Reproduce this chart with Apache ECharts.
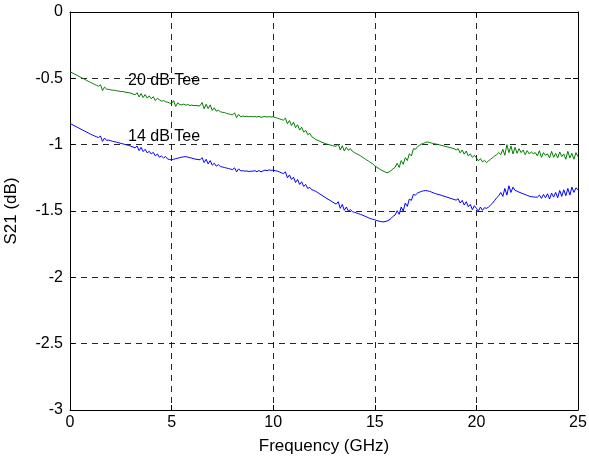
<!DOCTYPE html>
<html><head><meta charset="utf-8">
<script src="https://cdn.jsdelivr.net/npm/echarts@6/dist/echarts.min.js"></script>
<style>html,body{margin:0;padding:0;background:#fff}#c{width:589px;height:462px}</style>
</head><body><div id="c"></div>
<script>
// Frequency grid: 0 to 25 GHz in 0.1 GHz steps
const freqStep = 0.1;
const xTicks = [0, 5, 10, 15, 20, 25];
const yTicks = [0, -0.5, -1, -1.5, -2, -2.5, -3];
const seriesNames = ['20 dB Tee', '14 dB Tee'];
const tee20 = [
-0.450,-0.458,-0.466,-0.474,-0.482,-0.490,-0.498,-0.506,-0.514,-0.522,
-0.530,-0.537,-0.545,-0.552,-0.560,-0.548,-0.592,-0.566,-0.581,-0.583,
-0.586,-0.590,-0.589,-0.594,-0.596,-0.600,-0.599,-0.604,-0.606,-0.608,
-0.612,-0.618,-0.625,-0.608,-0.640,-0.615,-0.645,-0.622,-0.650,-0.632,
-0.655,-0.638,-0.668,-0.650,-0.662,-0.672,-0.668,-0.676,-0.680,-0.686,
-0.690,-0.668,-0.712,-0.684,-0.698,-0.700,-0.694,-0.702,-0.698,-0.704,
-0.702,-0.706,-0.704,-0.708,-0.706,-0.682,-0.730,-0.695,-0.728,-0.700,
-0.742,-0.722,-0.748,-0.740,-0.752,-0.756,-0.758,-0.764,-0.768,-0.772,
-0.776,-0.760,-0.796,-0.772,-0.790,-0.784,-0.788,-0.786,-0.790,-0.788,
-0.790,-0.788,-0.792,-0.786,-0.794,-0.790,-0.788,-0.792,-0.789,-0.791,
-0.790,-0.795,-0.800,-0.805,-0.810,-0.815,-0.800,-0.842,-0.818,-0.856,
-0.830,-0.872,-0.850,-0.890,-0.868,-0.905,-0.892,-0.925,-0.915,-0.940,
-0.950,-0.962,-0.968,-0.975,-0.982,-0.988,-0.994,-0.998,-1.002,-1.006,
-1.010,-1.012,-0.995,-1.040,-1.008,-1.048,-1.020,-1.042,-1.030,-1.050,
-1.060,-1.068,-1.075,-1.085,-1.095,-1.105,-1.115,-1.125,-1.135,-1.145,
-1.160,-1.170,-1.180,-1.190,-1.198,-1.205,-1.212,-1.206,-1.195,-1.182,
-1.170,-1.140,-1.172,-1.120,-1.148,-1.098,-1.120,-1.068,-1.085,-1.030,
-1.035,-1.015,-1.005,-0.995,-0.990,-0.982,-0.980,-0.984,-0.988,-0.992,
-0.995,-0.998,-1.002,-1.006,-1.010,-1.014,-1.018,-1.022,-1.026,-1.030,
-1.040,-1.030,-1.062,-1.040,-1.072,-1.048,-1.085,-1.070,-1.095,-1.080,
-1.100,-1.122,-1.105,-1.130,-1.118,-1.135,-1.122,-1.110,-1.098,-1.085,
-1.075,-1.060,-1.075,-1.035,-1.080,-1.000,-1.060,-1.010,-1.070,-1.020,
-1.065,-1.030,-1.060,-1.040,-1.075,-1.045,-1.070,-1.055,-1.068,-1.060,
-1.085,-1.045,-1.095,-1.060,-1.080,-1.070,-1.100,-1.050,-1.095,-1.065,
-1.100,-1.055,-1.090,-1.070,-1.110,-1.050,-1.100,-1.065,-1.110,-1.060,
-1.090
];
const tee14 = [
-0.840,-0.848,-0.856,-0.864,-0.872,-0.880,-0.888,-0.896,-0.904,-0.912,
-0.920,-0.927,-0.934,-0.940,-0.946,-0.935,-0.975,-0.950,-0.968,-0.966,
-0.970,-0.975,-0.978,-0.982,-0.986,-0.990,-0.994,-0.998,-1.002,-1.006,
-1.012,-1.018,-1.024,-1.010,-1.045,-1.020,-1.052,-1.035,-1.062,-1.050,
-1.070,-1.058,-1.085,-1.070,-1.095,-1.085,-1.100,-1.090,-1.108,-1.112,
-1.115,-1.110,-1.106,-1.102,-1.098,-1.094,-1.092,-1.090,-1.094,-1.098,
-1.102,-1.106,-1.110,-1.112,-1.114,-1.098,-1.135,-1.110,-1.145,-1.120,
-1.155,-1.140,-1.162,-1.150,-1.165,-1.168,-1.172,-1.176,-1.180,-1.184,
-1.188,-1.175,-1.205,-1.182,-1.198,-1.196,-1.200,-1.198,-1.202,-1.200,
-1.200,-1.196,-1.204,-1.195,-1.205,-1.198,-1.192,-1.196,-1.190,-1.194,
-1.192,-1.196,-1.200,-1.205,-1.212,-1.218,-1.205,-1.250,-1.228,-1.262,
-1.245,-1.285,-1.262,-1.300,-1.280,-1.315,-1.300,-1.330,-1.322,-1.340,
-1.345,-1.352,-1.362,-1.372,-1.382,-1.392,-1.402,-1.412,-1.420,-1.430,
-1.440,-1.448,-1.430,-1.480,-1.450,-1.495,-1.470,-1.500,-1.490,-1.505,
-1.510,-1.515,-1.520,-1.526,-1.532,-1.538,-1.545,-1.552,-1.558,-1.562,
-1.566,-1.572,-1.576,-1.580,-1.582,-1.580,-1.576,-1.568,-1.556,-1.540,
-1.530,-1.498,-1.525,-1.470,-1.500,-1.440,-1.465,-1.410,-1.420,-1.375,
-1.380,-1.365,-1.358,-1.352,-1.348,-1.346,-1.348,-1.352,-1.358,-1.364,
-1.370,-1.374,-1.378,-1.383,-1.388,-1.393,-1.398,-1.403,-1.408,-1.413,
-1.418,-1.408,-1.440,-1.420,-1.455,-1.430,-1.468,-1.450,-1.490,-1.460,
-1.480,-1.500,-1.470,-1.495,-1.475,-1.480,-1.470,-1.455,-1.440,-1.420,
-1.400,-1.385,-1.360,-1.390,-1.330,-1.380,-1.310,-1.360,-1.320,-1.345,
-1.350,-1.358,-1.364,-1.370,-1.376,-1.382,-1.388,-1.392,-1.394,-1.396,
-1.395,-1.380,-1.405,-1.375,-1.400,-1.370,-1.410,-1.365,-1.395,-1.360,
-1.400,-1.345,-1.390,-1.340,-1.385,-1.330,-1.380,-1.320,-1.360,-1.325,
-1.340
];
const labelPos = [[4.63, -0.515], [4.63, -0.94]];

const toPairs = arr => arr.map((v, i) => [+(i * freqStep).toFixed(2), v]);
const FONT = 'Liberation Sans, Arial, sans-serif';
const chart = echarts.init(document.getElementById('c'));
const gridLine = { show: true, lineStyle: { color: '#000', type: [6, 5], width: 1, opacity: 0.85 } };
const tickIn = { show: true, inside: true, length: 5, lineStyle: { color: '#000' } };
chart.setOption({
  animation: false,
  backgroundColor: '#fff',
  grid: { left: 70, top: 12, right: 11, bottom: 52, containLabel: false, outerBoundsMode: 'none' },
  xAxis: [{
    type: 'value', min: 0, max: 25, interval: 5, position: 'bottom',
    name: 'Frequency (GHz)', nameLocation: 'middle', nameGap: 28,
    nameTextStyle: { fontFamily: FONT, fontSize: 17, color: '#000' },
    axisLine: { show: true, onZero: false, lineStyle: { color: '#000' } },
    axisTick: tickIn, splitLine: gridLine,
    axisLabel: { fontFamily: FONT, fontSize: 16, color: '#000', margin: 5 }
  }, {
    type: 'value', min: 0, max: 25, interval: 5, position: 'top',
    axisLine: { show: true, onZero: false, lineStyle: { color: '#000' } },
    axisTick: tickIn, splitLine: { show: false }, axisLabel: { show: false }
  }],
  yAxis: [{
    type: 'value', min: -3, max: 0, interval: 0.5, position: 'left',
    name: 'S21 (dB)', nameLocation: 'middle', nameGap: 50, nameRotate: 90,
    nameTextStyle: { fontFamily: FONT, fontSize: 17, color: '#000' },
    axisLine: { show: true, onZero: false, lineStyle: { color: '#000' } },
    axisTick: tickIn, splitLine: gridLine,
    axisLabel: { fontFamily: FONT, fontSize: 16, color: '#000', margin: 7 }
  }, {
    type: 'value', min: -3, max: 0, interval: 0.5, position: 'right',
    axisLine: { show: true, onZero: false, lineStyle: { color: '#000' } },
    axisTick: tickIn, splitLine: { show: false }, axisLabel: { show: false }
  }],
  series: [
    { name: seriesNames[0], type: 'line', data: toPairs(tee20), showSymbol: false, symbol: 'none',
      lineStyle: { color: '#008000', width: 1 }, z: 3,
      markPoint: { symbol: 'circle', symbolSize: 0, silent: true,
        label: { show: true, formatter: seriesNames[0], fontFamily: FONT, fontSize: 16, color: '#000', position: 'inside' },
        data: [{ coord: labelPos[0] }] } },
    { name: seriesNames[1], type: 'line', data: toPairs(tee14), showSymbol: false, symbol: 'none',
      lineStyle: { color: '#0000ff', width: 1 }, z: 3,
      markPoint: { symbol: 'circle', symbolSize: 0, silent: true,
        label: { show: true, formatter: seriesNames[1], fontFamily: FONT, fontSize: 16, color: '#000', position: 'inside' },
        data: [{ coord: labelPos[1] }] } }
  ]
});
</script></body></html>
